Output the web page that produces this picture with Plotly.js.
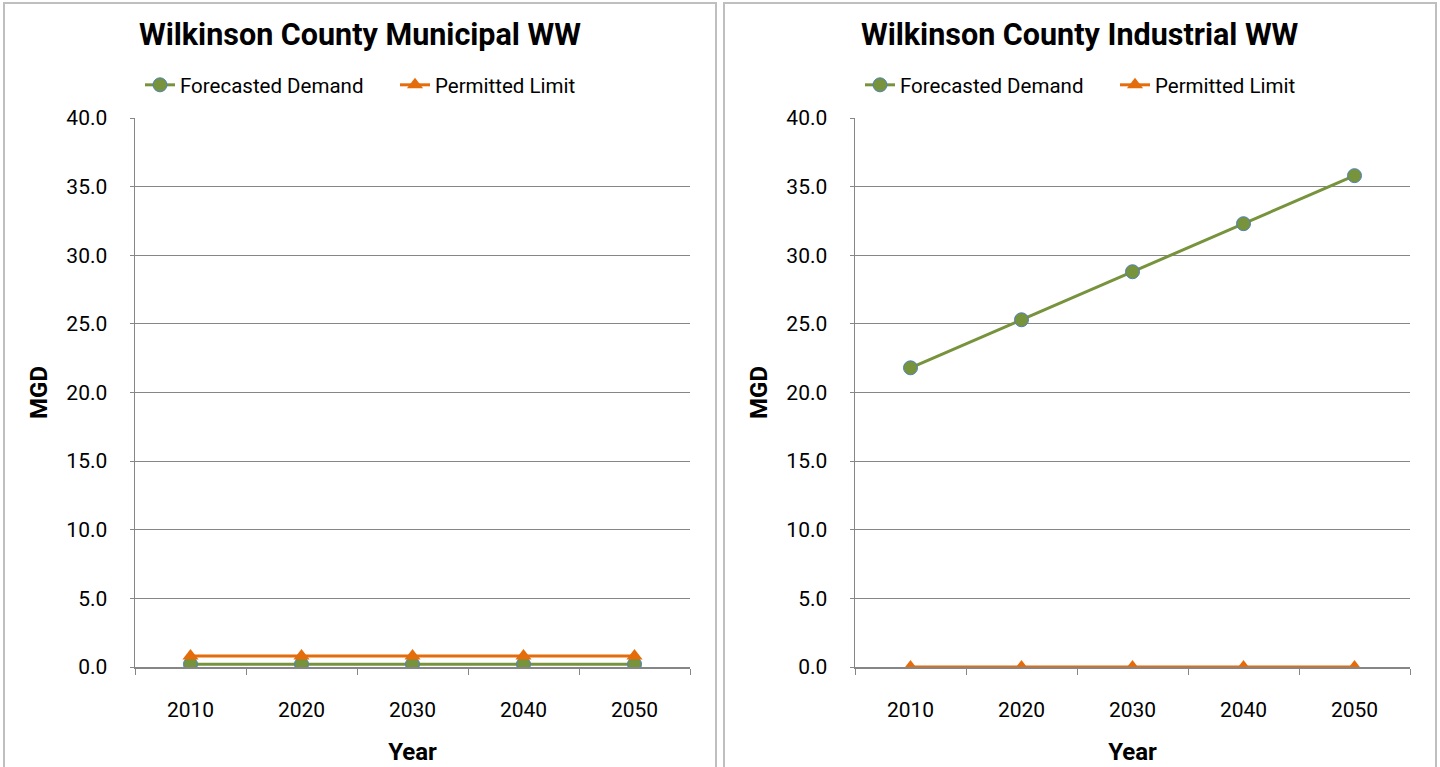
<!DOCTYPE html>
<html>
<head>
<meta charset="utf-8">
<script src="https://cdn.plot.ly/plotly-3.0.1.min.js"></script>
<style>html,body{margin:0;padding:0;background:#fff;}#chart{width:1440px;height:767px;}</style>
</head>
<body>
<div id="chart"></div>
<script>
const years = ['2010', '2020', '2030', '2040', '2050'];
const municipalDemand = [0.2, 0.2, 0.2, 0.2, 0.2];
const municipalLimit = [0.8, 0.8, 0.8, 0.8, 0.8];
const industrialDemand = [21.8, 25.3, 28.8, 32.3, 35.8];
const industrialLimit = [0.0, 0.0, 0.0, 0.0, 0.0];
const titles = ['Wilkinson County Municipal WW', 'Wilkinson County Industrial WW'];
const seriesNames = ['Forecasted Demand', 'Permitted Limit'];
const yTicks = [0, 5, 10, 15, 20, 25, 30, 35, 40];

const FONT = 'Roboto, Arial, sans-serif';
const green = '#77933C', orange = '#E46C0A', blueEdge = '#4F81BD';

function demandTrace(y, xa, ya, leg) {
  return {x: years, y: y, xaxis: xa, yaxis: ya, legend: leg, name: seriesNames[0], type: 'scatter', mode: 'lines+markers',
    line: {color: green, width: 3}, marker: {symbol: 'circle', size: 14, color: green, line: {color: blueEdge, width: 1}}};
}
function limitTrace(y, xa, ya, leg) {
  return {x: years, y: y, xaxis: xa, yaxis: ya, legend: leg, name: seriesNames[1], type: 'scatter', mode: 'lines+markers',
    line: {color: orange, width: 3}, marker: {symbol: 'triangle-up', size: 14, color: orange}};
}
const data = [
  demandTrace(municipalDemand, 'x', 'y', 'legend'),
  limitTrace(municipalLimit, 'x', 'y', 'legend'),
  demandTrace(industrialDemand, 'x2', 'y2', 'legend2'),
  limitTrace(industrialLimit, 'x2', 'y2', 'legend2')
];

const W = 1440, H = 767;
const yTop = 1 - 118 / H, yBot = 1 - 667 / H;
function xAxis(d, anchor) {
  return {domain: d, anchor: anchor, type: 'category', range: [-0.5, 4.5], tickson: 'boundaries',
    ticks: 'outside', ticklen: 6, tickcolor: '#868686', tickwidth: 1, showline: true, linecolor: '#868686', linewidth: 1.5,
    showgrid: false, zeroline: false, ticklabelstandoff: 23,
    tickfont: {family: FONT, size: 21, color: '#000'},
    title: {text: '<b>Year</b>', font: {family: FONT, size: 24, color: '#000'}, standoff: 22}, fixedrange: true};
}
function yAxis(anchor) {
  return {domain: [yBot, yTop], anchor: anchor, range: [0, 40], tickvals: yTicks, ticktext: yTicks.map(v => v.toFixed(1)),
    showgrid: true, gridcolor: '#868686', gridwidth: 1, zeroline: false, showline: true, linecolor: '#868686', linewidth: 1.5,
    ticks: 'outside', ticklen: 4, tickcolor: '#868686', ticklabelstandoff: 18,
    tickfont: {family: FONT, size: 21, color: '#000'},
    title: {text: '<b>MGD</b>', font: {family: FONT, size: 24, color: '#000'}, standoff: 12}, fixedrange: true};
}
function legendCfg(xPx) {
  return {orientation: 'h', x: xPx / W, xanchor: 'left', y: 1 - 65 / H, yanchor: 'top', entrywidth: 210, entrywidthmode: 'pixels',
    font: {family: FONT, size: 20.5, color: '#000'}, bgcolor: 'rgba(0,0,0,0)', itemwidth: 30, tracegroupgap: 0};
}
const layout = {
  width: W, height: H, margin: {l: 0, r: 0, t: 0, b: 0}, paper_bgcolor: '#fff', plot_bgcolor: '#fff',
  showlegend: true,
  xaxis: xAxis([135 / W, 690 / W], 'y'),
  yaxis: yAxis('x'),
  xaxis2: xAxis([855 / W, 1410 / W], 'y2'),
  yaxis2: yAxis('x2'),
  legend: legendCfg(140),
  legend2: legendCfg(860),
  annotations: [
    {text: '<b>' + titles[0] + '</b>', xref: 'paper', yref: 'paper', x: 360 / W, y: 1 - 35 / H, xanchor: 'center', yanchor: 'middle',
      showarrow: false, font: {family: FONT, size: 30.5, color: '#000'}},
    {text: '<b>' + titles[1] + '</b>', xref: 'paper', yref: 'paper', x: 1080 / W, y: 1 - 35 / H, xanchor: 'center', yanchor: 'middle',
      showarrow: false, font: {family: FONT, size: 30.5, color: '#000'}}
  ],
  shapes: [
    {type: 'rect', xref: 'paper', yref: 'paper', x0: 4 / W, x1: 716 / W, y0: -0.01, y1: 1 - 3 / H, line: {color: '#BFBFBF', width: 2}, layer: 'below'},
    {type: 'rect', xref: 'paper', yref: 'paper', x0: 724 / W, x1: 1436 / W, y0: -0.01, y1: 1 - 3 / H, line: {color: '#BFBFBF', width: 2}, layer: 'below'}
  ]
};
Plotly.newPlot('chart', data, layout, {displayModeBar: false, staticPlot: true});
</script>
</body>
</html>
